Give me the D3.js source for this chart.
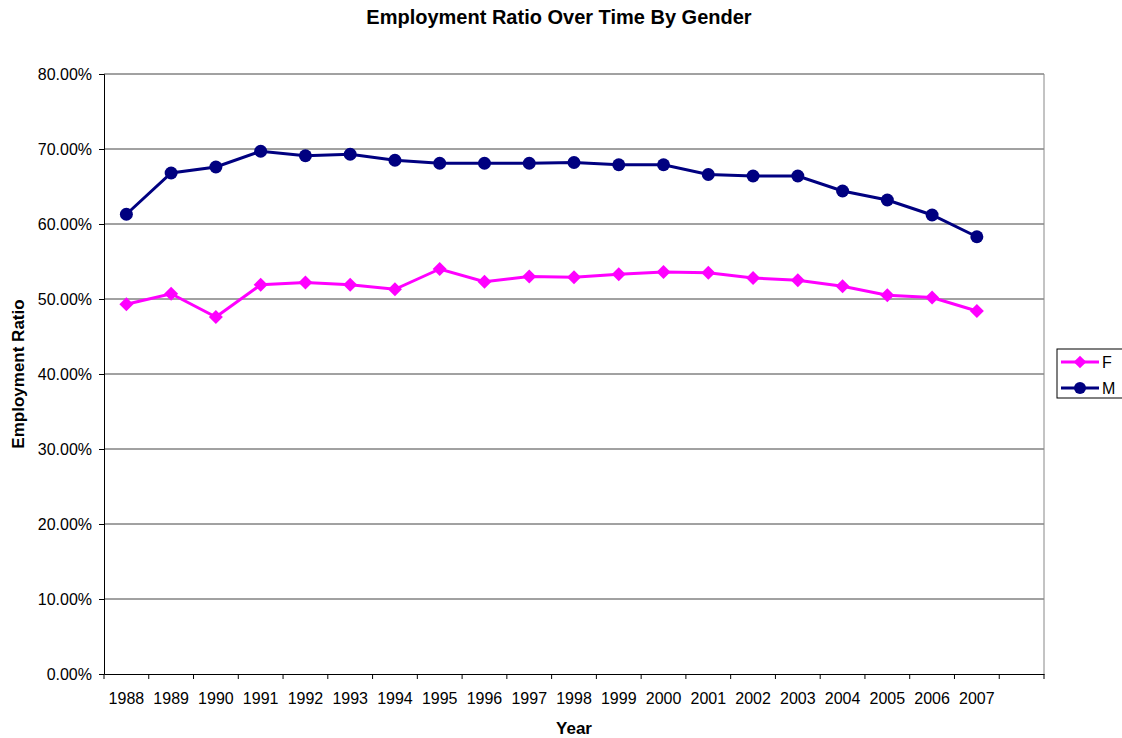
<html>
    <head>
        <title>Employment Ratio Over Time By Gender</title>
        <script src="https://d3js.org/d3.v7.min.js"></script>
        <style>
            body { margin: 0; background: white; }
            text { font-family: "Liberation Sans", Arial, sans-serif; fill: #000; }
        </style>
    </head>
    <body>
        <svg id="chart" width="1122" height="738"></svg>
        <script>
            // data
            const years = ["1988","1989","1990","1991","1992","1993","1994","1995","1996","1997",
                           "1998","1999","2000","2001","2002","2003","2004","2005","2006","2007"];
            const femaleRatio = [49.3, 50.7, 47.6, 51.9, 52.2, 51.9, 51.3, 54.0, 52.3, 53.0,
                                 52.9, 53.3, 53.6, 53.5, 52.8, 52.5, 51.7, 50.5, 50.2, 48.4];
            const maleRatio = [61.3, 66.8, 67.6, 69.7, 69.1, 69.3, 68.5, 68.1, 68.1, 68.1,
                               68.2, 67.9, 67.9, 66.6, 66.4, 66.4, 64.4, 63.2, 61.2, 58.3];
            const yTicks = [0, 10, 20, 30, 40, 50, 60, 70, 80];

            const svg = d3.select("#chart");
            const margin = {top: 74, right: 78, bottom: 64, left: 104};
            const width = 1122 - margin.left - margin.right;
            const height = 738 - margin.top - margin.bottom;

            const chart = svg.append("g")
                .attr("transform", `translate(${margin.left},${margin.top})`);

            // 21 slots: the last one is empty, like the original sheet
            const xScale = d3.scaleBand()
                .domain(years.concat([""]))
                .range([0, width]);

            const yScale = d3.scaleLinear()
                .domain([0, 80])
                .range([height, 0]);

            // gridlines
            chart.append("g")
                .selectAll("line")
                .data(yTicks.slice(1))
                .join("line")
                .attr("x1", 0)
                .attr("x2", width)
                .attr("y1", d => yScale(d))
                .attr("y2", d => yScale(d))
                .attr("stroke", "#444")
                .attr("stroke-width", 1);

            // plot border (right side)
            chart.append("line")
                .attr("x1", width).attr("x2", width)
                .attr("y1", 0).attr("y2", height)
                .attr("stroke", "#888");

            // y axis
            const leftAxis = d3.axisLeft(yScale)
                .tickValues(yTicks)
                .tickSize(5)
                .tickPadding(7)
                .tickFormat(d => d.toFixed(2) + "%");
            const yAxisG = chart.append("g").call(leftAxis);
            yAxisG.select(".domain").attr("stroke", "#000");
            yAxisG.selectAll("text").style("font-size", "16px").attr("font-family", null);

            // x axis, ticks on slot boundaries
            const bottomAxis = d3.axisBottom(xScale)
                .tickSize(0)
                .tickPadding(19);
            const xAxisG = chart.append("g")
                .attr("transform", `translate(0,${height})`)
                .call(bottomAxis);
            xAxisG.select(".domain").attr("stroke", "#000");
            xAxisG.selectAll("text").style("font-size", "16px").attr("font-family", null);

            const boundaries = d3.range(xScale.domain().length + 1);
            xAxisG.append("g")
                .selectAll("line")
                .data(boundaries)
                .join("line")
                .attr("x1", i => i * xScale.step())
                .attr("x2", i => i * xScale.step())
                .attr("y1", 0)
                .attr("y2", 5)
                .attr("stroke", "#000");

            const cx = (d, i) => xScale(years[i]) + xScale.bandwidth() / 2;

            const line = d3.line()
                .x((d, i) => cx(d, i))
                .y(d => yScale(d));

            // M series
            chart.append("path")
                .datum(maleRatio)
                .attr("fill", "none")
                .attr("stroke", "#000080")
                .attr("stroke-width", 3)
                .attr("d", line);

            chart.selectAll("circle.m")
                .data(maleRatio)
                .join("circle")
                .attr("class", "m")
                .attr("cx", cx)
                .attr("cy", d => yScale(d))
                .attr("r", 6.5)
                .attr("fill", "#000080");

            // F series
            chart.append("path")
                .datum(femaleRatio)
                .attr("fill", "none")
                .attr("stroke", "#FF00FF")
                .attr("stroke-width", 3)
                .attr("d", line);

            const diamond = d3.symbol().type(d3.symbolSquare).size(98);
            chart.selectAll("path.f")
                .data(femaleRatio)
                .join("path")
                .attr("class", "f")
                .attr("d", diamond)
                .attr("transform", (d, i) => `translate(${cx(d, i)},${yScale(d)}) rotate(45)`)
                .attr("fill", "#FF00FF");

            // title and axis labels
            svg.append("text")
                .attr("x", 559)
                .attr("y", 24)
                .attr("text-anchor", "middle")
                .style("font-size", "20px")
                .style("font-weight", "bold")
                .text("Employment Ratio Over Time By Gender");

            svg.append("text")
                .attr("x", 574)
                .attr("y", 734)
                .attr("text-anchor", "middle")
                .style("font-size", "17px")
                .style("font-weight", "bold")
                .text("Year");

            svg.append("text")
                .attr("transform", "translate(24,374) rotate(-90)")
                .attr("text-anchor", "middle")
                .style("font-size", "17px")
                .style("font-weight", "bold")
                .text("Employment Ratio");

            // legend
            const legend = svg.append("g")
                .attr("transform", "translate(1057,349)");

            legend.append("rect")
                .attr("width", 70)
                .attr("height", 49)
                .attr("fill", "white")
                .attr("stroke", "#000");

            const legendItems = [
                {name: "F", color: "#FF00FF", shape: "diamond"},
                {name: "M", color: "#000080", shape: "circle"}
            ];

            const item = legend.selectAll("g.item")
                .data(legendItems)
                .join("g")
                .attr("class", "item")
                .attr("transform", (d, i) => `translate(0,${13 + i * 26})`);

            item.append("line")
                .attr("x1", 4).attr("x2", 42)
                .attr("y1", 0).attr("y2", 0)
                .attr("stroke", d => d.color)
                .attr("stroke-width", 3);

            item.filter(d => d.shape === "circle").append("circle")
                .attr("cx", 23).attr("cy", 0).attr("r", 6)
                .attr("fill", d => d.color);

            item.filter(d => d.shape === "diamond").append("path")
                .attr("d", d3.symbol().type(d3.symbolSquare).size(80))
                .attr("transform", "translate(23,0) rotate(45)")
                .attr("fill", d => d.color);

            item.append("text")
                .attr("x", 45)
                .attr("y", 6)
                .style("font-size", "16px")
                .text(d => d.name);
        </script>
    </body>
</html>
